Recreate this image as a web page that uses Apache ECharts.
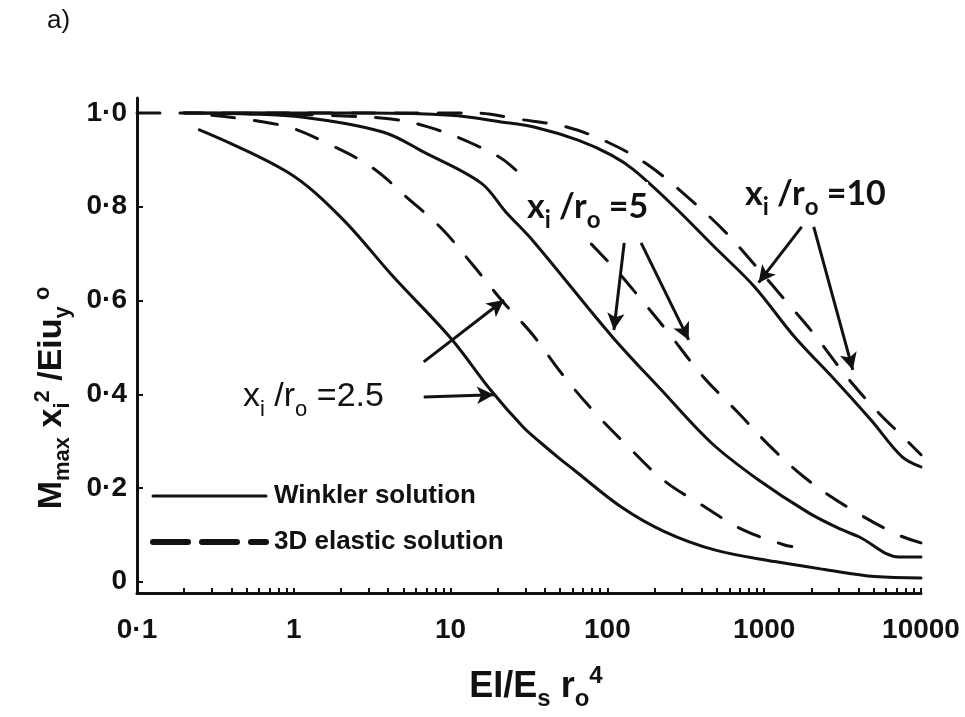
<!DOCTYPE html>
<html>
<head>
<meta charset="utf-8">
<script src="https://cdn.jsdelivr.net/npm/echarts@6/dist/echarts.min.js"></script>
<style>
  html, body { margin: 0; padding: 0; background: #fff; }
  #chart { width: 965px; height: 717px; }
</style>
</head>
<body>
<div id="chart"></div>
<script>
// Normalised maximum bending moment Mmax·xi²/(EI·uy°) against relative stiffness EI/(Es·ro⁴)
// Each curve: [EI/Es ro^4, Mmax xi^2 / EIu]

// Winkler solution (solid)
const winkler25 = [[0.25, 0.964], [0.91, 0.874], [1.99, 0.778], [4.33, 0.650], [10, 0.520], [18, 0.409],
  [29, 0.330], [37.7, 0.296], [50.7, 0.260], [61, 0.239], [122, 0.160], [231, 0.107], [482, 0.068],
  [1167, 0.043], [2434, 0.026], [5080, 0.011], [10000, 0.008]];
const winkler5 = [[0.2, 1.0], [0.5, 0.998], [1.15, 0.991], [3.74, 0.959], [6.7, 0.917], [15.6, 0.851],
  [22.5, 0.789], [34, 0.725], [106, 0.525], [221, 0.409], [461, 0.296], [921, 0.217], [1923, 0.147],
  [3126, 0.111], [4018, 0.096], [7228, 0.053], [10000, 0.053]];
const winkler10 = [[0.2, 1.0], [3, 1.0], [10, 0.995], [21, 0.981], [34, 0.970], [65, 0.942], [106, 0.910],
  [148, 0.878], [267, 0.800], [482, 0.714], [869, 0.629], [1564, 0.522], [2818, 0.431], [4800, 0.345],
  [7554, 0.267], [10000, 0.245]];

// 3D elastic solution (dashed)
const elastic25 = [[0.3, 0.995], [0.88, 0.972], [1.71, 0.932], [3.18, 0.883], [5.3, 0.819], [8.8, 0.753],
  [14, 0.674], [21.6, 0.597], [33, 0.529], [52, 0.441], [81, 0.365], [134, 0.290], [227, 0.217],
  [398, 0.164], [728, 0.111], [1330, 0.079], [1500, 0.075]];
const elastic5 = [[0.5, 1.0], [3.74, 0.989], [6.9, 0.972], [13.5, 0.936], [24, 0.889], [106, 0.676],
  [169, 0.597], [248, 0.529], [404, 0.439], [676, 0.362], [1067, 0.292], [1787, 0.224], [3221, 0.164],
  [6920, 0.102], [10000, 0.083]];
const elastic10 = [[0.1, 1.0], [14.5, 1.0], [27, 0.987], [55, 0.970], [103, 0.936], [182, 0.889],
  [329, 0.819], [558, 0.748], [881, 0.674], [1390, 0.597], [2070, 0.529], [3365, 0.437], [5310, 0.362],
  [7800, 0.307], [10000, 0.271]];

// Axis ticks
const yTickValues = [0, 0.2, 0.4, 0.6, 0.8, 1.0];
const decadeExponents = [-1, 0, 1, 2, 3];
const minorMultipliers = [1, 2, 3, 4, 5, 6, 7, 8, 9];

// Pointer arrows from the x_i/r_o labels: [fromX, fromY, toX, toY]
const arrows = [
  [6.74, 0.394, 18.9, 0.399],
  [6.74, 0.469, 21.9, 0.601],
  [128, 0.723, 110, 0.537],
  [164, 0.723, 330, 0.516],
  [1734, 0.757, 921, 0.638],
  [2070, 0.757, 3673, 0.452]
];

const WINKLER = 'Winkler solution';
const ELASTIC = '3D elastic solution';
const INK = '#111';
const DASH = [23, 20];

// minor ticks on the log axis, expressed in log10 units for the helper axis
const minorTickLogs = [];
decadeExponents.forEach(function (e) {
  minorMultipliers.forEach(function (m) {
    if (e === -1 && m === 1) return;
    minorTickLogs.push(Math.log10(m) + e);
  });
});
minorTickLogs.push(4);

function curve(name, data, dashed) {
  return {
    name: name,
    type: 'line',
    data: data,
    xAxisIndex: 0,
    yAxisIndex: 0,
    symbol: 'none',
    showSymbol: false,
    smooth: 0.35,
    lineStyle: { color: INK, width: 3, type: dashed ? DASH : 'solid', cap: 'round' },
    itemStyle: { color: INK }
  };
}

const subRich = {
  fontFamily: 'Lato', fontWeight: 'bold', fontSize: 24, lineHeight: 24,
  verticalAlign: 'bottom', fill: INK
};
const mainRich = { fontFamily: 'Lato', fontWeight: 'bold', fontSize: 34, lineHeight: 50, fill: INK };

function ratioLabel(x, y, value) {
  return {
    type: 'text', x: x, y: y, z: 100, silent: true,
    style: {
      text: '{m|x}{s|i}{m| /r}{s|o}{m| =' + value + '}',
      align: 'left', verticalAlign: 'middle',
      backgroundColor: '#fff',
      rich: { m: mainRich, s: subRich }
    }
  };
}

const chart = echarts.init(document.getElementById('chart'), null, { renderer: 'canvas' });

chart.setOption({
  animation: false,
  backgroundColor: '#fff',
  grid: { left: 137, right: 44, top: 98, bottom: 124 },
  xAxis: [
    {
      type: 'log', logBase: 10, min: 0.1, max: 10000, position: 'bottom',
      axisLine: { onZero: false, lineStyle: { color: INK, width: 3 } },
      axisTick: { show: false },
      splitLine: { show: false },
      axisLabel: {
        color: INK, fontFamily: 'Liberation Sans', fontWeight: 'bold', fontSize: 28, margin: 23,
        formatter: function (v) {
          const n = Number(Number(v).toPrecision(6));
          return n < 1 ? String(n).replace('.', '·') : String(n);
        }
      }
    },
    {
      type: 'value', min: -1, max: 4, position: 'bottom',
      axisLine: { show: false, onZero: false },
      axisLabel: { show: false },
      splitLine: { show: false },
      axisTick: {
        show: true, inside: true, length: 5, customValues: minorTickLogs,
        lineStyle: { color: INK, width: 2 }
      }
    }
  ],
  yAxis: {
    type: 'value', min: -0.024, max: 1.032,
    axisLine: { onZero: false, lineStyle: { color: INK, width: 3 } },
    splitLine: { show: false },
    axisTick: { inside: true, length: 6, customValues: yTickValues, lineStyle: { color: INK, width: 2 } },
    axisLabel: {
      customValues: yTickValues, margin: 10,
      color: INK, fontFamily: 'Liberation Sans', fontWeight: 'bold', fontSize: 28,
      formatter: function (v) {
        return v === 0 ? '0' : Number(v).toFixed(1).replace('.', '·');
      }
    }
  },
  legend: {
    orient: 'vertical', left: 150, top: 483, padding: 0,
    itemWidth: 113, itemHeight: 20, itemGap: 20,
    selectedMode: false,
    itemStyle: { opacity: 0, borderWidth: 0 },
    textStyle: {
      color: INK, fontFamily: 'Liberation Sans', fontWeight: 'bold', fontSize: 26,
      lineHeight: 26, padding: [0, 0, 0, 3]
    },
    data: [
      { name: WINKLER, itemStyle: { opacity: 0 }, lineStyle: { width: 3, type: 'solid' } },
      { name: ELASTIC, itemStyle: { opacity: 0 }, lineStyle: { width: 6, type: [35, 14], cap: 'round' } }
    ]
  },
  series: [
    curve(WINKLER, winkler25, false),
    curve(WINKLER, winkler5, false),
    curve(WINKLER, winkler10, false),
    curve(ELASTIC, elastic25, true),
    curve(ELASTIC, elastic5, true),
    curve(ELASTIC, elastic10, true),
    {
      name: 'pointers', type: 'line', data: [], xAxisIndex: 0, yAxisIndex: 0,
      markLine: {
        silent: true, animation: false,
        symbol: ['none', 'arrow'], symbolSize: [13, 17],
        label: { show: false },
        emphasis: { disabled: true },
        lineStyle: { color: INK, width: 3, type: 'solid' },
        data: arrows.map(function (a) {
          return [{ coord: [a[0], a[1]] }, { coord: [a[2], a[3]] }];
        })
      }
    }
  ],
  graphic: [
    {
      type: 'text', x: 47, y: 8, silent: true,
      style: { text: 'a)', fontFamily: 'Liberation Sans', fontSize: 26, fill: INK }
    },
    {
      type: 'text', x: 52, y: 398, rotation: Math.PI / 2, silent: true,
      style: {
        text: '{m|M}{sb|max}{m| x}{sb|i}{sp|2}{m| /Eiu}{sb|y}{sp| o}',
        align: 'center', verticalAlign: 'middle',
        rich: {
          m: { fontFamily: 'Liberation Sans', fontWeight: 'bold', fontSize: 34, lineHeight: 44, fill: INK },
          sb: { fontFamily: 'Liberation Sans', fontWeight: 'bold', fontSize: 22, lineHeight: 22, verticalAlign: 'bottom', fill: INK },
          sp: { fontFamily: 'Liberation Sans', fontWeight: 'bold', fontSize: 22, lineHeight: 22, verticalAlign: 'top', padding: [2, 0, 0, 0], fill: INK }
        }
      }
    },
    {
      type: 'text', x: 536, y: 687, silent: true,
      style: {
        text: '{m|EI/E}{sb|s}{m| r}{sb|o}{sp|4}',
        align: 'center', verticalAlign: 'middle',
        rich: {
          m: { fontFamily: 'Liberation Sans', fontWeight: 'bold', fontSize: 36, lineHeight: 48, fill: INK },
          sb: { fontFamily: 'Liberation Sans', fontWeight: 'bold', fontSize: 24, lineHeight: 24, verticalAlign: 'bottom', fill: INK },
          sp: { fontFamily: 'Liberation Sans', fontWeight: 'bold', fontSize: 24, lineHeight: 24, verticalAlign: 'top', padding: [1, 0, 0, 0], fill: INK }
        }
      }
    },
    {
      type: 'text', x: 243, y: 397, silent: true,
      style: {
        text: '{m|x}{s|i}{m| /r}{s|o}{m| =2.5}',
        align: 'left', verticalAlign: 'middle',
        rich: {
          m: { fontFamily: 'Liberation Sans', fontSize: 34, lineHeight: 48, fill: INK },
          s: { fontFamily: 'Liberation Sans', fontSize: 22, lineHeight: 22, verticalAlign: 'bottom', fill: INK }
        }
      }
    },
    ratioLabel(527, 207, '5'),
    ratioLabel(745, 194, '10')
  ]
});
</script>
</body>
</html>
